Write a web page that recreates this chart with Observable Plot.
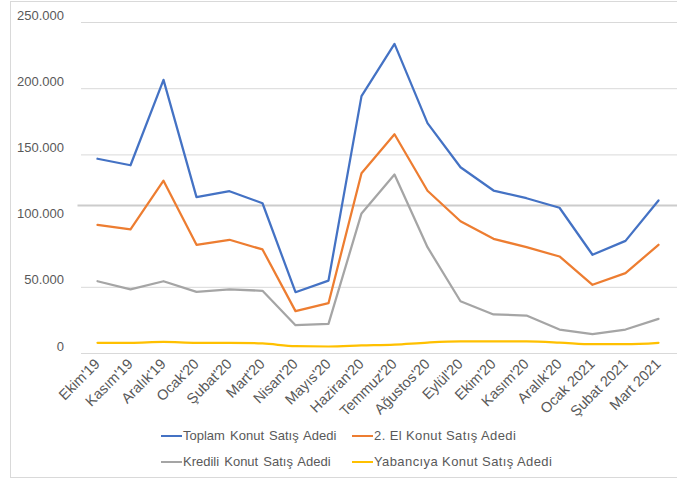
<!DOCTYPE html>
<html>
<head>
<meta charset="utf-8">
<script src="https://cdn.jsdelivr.net/npm/d3@7"></script>
<script src="https://cdn.jsdelivr.net/npm/@observablehq/plot@0.6"></script>
<style>
  html, body { margin: 0; padding: 0; background: #fff; }
  body { width: 677px; height: 479px; position: relative; overflow: hidden; font-family: "Liberation Sans", Arial, sans-serif; }
  #frame { position: absolute; left: 10px; top: 1px; width: 700px; height: 475px; border: 1px solid #d9d9d9; }
  #chart { position: absolute; left: 0; top: 0; }
  .leg { position: absolute; height: 16px; line-height: 16px; font-size: 13px; color: #595959; white-space: pre; }
  .leg span.sw { display: inline-block; width: 21px; height: 2px; vertical-align: middle; margin-right: 1px; position: relative; top: -1px; }
</style>
</head>
<body>
<div id="frame"></div>
<div id="chart"></div>
<div id="legend"></div>
<script>
const months = ["Ekim'19","Kasım'19","Aralık'19","Ocak'20","Şubat'20","Mart'20","Nisan'20","Mayıs'20","Haziran'20","Temmuz'20","Ağustos'20","Eylül'20","Ekim'20","Kasım'20","Aralık'20","Ocak 2021","Şubat 2021","Mart 2021"];
const toplam   = [141800,136900,201400,112800,117300,108200,41000,49800,189100,228600,168700,135400,117800,112000,104800,69300,79800,110300];
const ikinciEl = [91900,88400,125200,76800,80600,73300,26700,32700,130900,160300,117600,94600,81300,75000,68000,46600,55400,76800];
const kredili  = [49300,43100,49300,41300,43100,42100,16100,17100,100500,129900,75000,34200,24200,23400,12800,9300,12800,20900];
const yabanci  = [2800,2800,3500,2800,2800,2300,200,0,800,1500,3000,3800,3800,3800,3000,1700,1700,2800];
const seriesNames = ["Toplam Konut Satış Adedi","2. El Konut Satış Adedi","Kredili Konut Satış Adedi","Yabancıya Konut Satış Adedi"];
const seriesColors = ["#4472C4","#ED7D31","#A5A5A5","#FFC000"];
const yTicks = [0,50000,100000,150000,200000,250000];
const gridTicks = [0,50000,150000,200000,250000];
const oddGrid = [106500];

const seriesValues = [toplam, ikinciEl, kredili, yabanci];
const rows = seriesValues.flatMap((vals, s) => vals.map((v, i) => ({month: months[i], value: v, series: seriesNames[s]})));

const loc = d3.formatLocale({decimal: ",", thousands: ".", grouping: [3], currency: ["", ""]});
const fmt = loc.format(",");

const chart = Plot.plot({
  width: 677,
  height: 420,
  marginLeft: 77.5,
  marginRight: 0,
  marginTop: 15,
  marginBottom: 74,
  style: {fontFamily: "Liberation Sans, Arial, sans-serif", fontSize: "13px", color: "#595959", background: "transparent"},
  x: {type: "point", domain: months, padding: 0.5},
  y: {domain: [0, 250000]},
  marks: [
    Plot.ruleY(gridTicks, {stroke: "#d9d9d9", strokeWidth: 1, dy: 7, insetLeft: 3.5}),
    Plot.ruleY(oddGrid, {stroke: "#cccccc", strokeWidth: 2}),
    Plot.axisY({ticks: yTicks, tickSize: 0, tickPadding: 14, tickFormat: d => fmt(d), label: null}),
    Plot.axisX({tickRotate: -45, tickSize: 0, tickPadding: 15, fontSize: 14.5, label: null}),
    ...seriesNames.map((name, s) => Plot.line(rows.filter(r => r.series === name), {
      x: "month", y: "value", stroke: seriesColors[s], strokeWidth: 2.25,
      curve: s === 3 ? "monotone-x" : "linear"
    }))
  ]
});
document.getElementById("chart").appendChild(chart);

const legendPos = [[161, 428], [352, 428], [161, 454], [352, 454]];
const legendWordSpacing = ["1.5px", "0px", "1.5px", "0px"];
const legendLetterSpacing = ["0px", "0.4px", "0px", "0.4px"];
const legend = document.getElementById("legend");
seriesNames.forEach((name, s) => {
  const d = document.createElement("div");
  d.className = "leg";
  d.style.left = legendPos[s][0] + "px";
  d.style.top = legendPos[s][1] + "px";
  d.style.wordSpacing = legendWordSpacing[s];
  d.style.letterSpacing = legendLetterSpacing[s];
  const sw = document.createElement("span");
  sw.className = "sw";
  sw.style.background = seriesColors[s];
  d.appendChild(sw);
  d.appendChild(document.createTextNode(name));
  legend.appendChild(d);
});
</script>
</body>
</html>
